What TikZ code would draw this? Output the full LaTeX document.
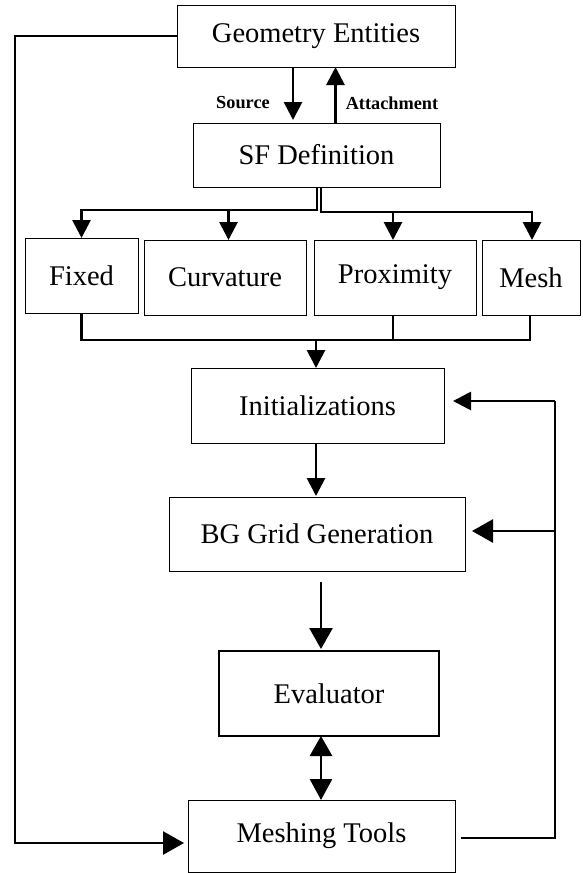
\documentclass[tikz,border=0pt]{standalone}
\usepackage{fontspec}
\setmainfont{Liberation Serif}
\usetikzlibrary{arrows.meta}
\begin{document}
\begin{tikzpicture}[x=1pt,y=-1pt,
 box/.style={draw, line width=1pt, inner sep=0pt, outer sep=0pt, font=\fontsize{28.5}{34}\selectfont},
 conn/.style={line width=2.8pt},
 thinl/.style={line width=1.3pt},
 arr/.style={conn, -{Triangle[length=18pt,width=18pt]}},
 bigarr/.style={conn, -{Triangle[length=21pt,width=23pt]}},
 lbl/.style={font=\fontsize{18.3}{22}\selectfont\bfseries, inner sep=0pt}]
\useasboundingbox (0,0) rectangle (582,873);
% boxes
\node[box, minimum width=278pt, minimum height=62pt] (geo) at (316,36) {Geometry Entities};
\node[box, minimum width=247pt, minimum height=64pt] (sf) at (316.5,155) {SF Definition};
\node[box, minimum width=113pt, minimum height=75pt] (fixed) at (81.5,275.5) {Fixed};
\node[box, minimum width=162pt, minimum height=75pt] (curv) at (225,277.5) {Curvature};
\node[box, minimum width=162pt, minimum height=75pt] (prox) at (395,277.5) {Proximity};
\node[box, minimum width=98pt, minimum height=75pt] (mesh) at (531,277.5) {Mesh};
\node[box, minimum width=253pt, minimum height=75pt] (init) at (317.5,405.5) {Initializations};
\node[box, minimum width=296pt, minimum height=74pt] (bg) at (317,534) {BG Grid Generation};
\node[box, line width=2pt, minimum width=220pt, minimum height=85pt] (eval) at (329,693.5) {Evaluator};
\node[box, minimum width=267pt, minimum height=72pt] (mt) at (321.5,836) {Meshing Tools};
% labels
\node[lbl] (src) at (243,103) {Source};
\node[lbl] (att) at (392,103) {Attachment};
% geo <-> sf
\draw[arr, shorten >=3pt] ([xshift=-23pt]geo.south) -- ([xshift=-23pt]geo.south |- sf.north);
\draw[arr] ([xshift=19pt]sf.north) -- ([xshift=19pt]sf.north |- geo.south);
% sf distribution
\coordinate (jL) at (317,210);
\coordinate (jR) at (321,212);
\draw[thinl] (sf.south -| jL) -- ([yshift=-1pt]jL);
\draw[thinl] (sf.south -| jR) -- ([yshift=-1pt]jR);
\draw[arr] (jL) -| (fixed.north);
\draw[arr] ([xshift=3.5pt]curv.north |- jL) -- ([xshift=3.5pt]curv.north);
\draw[arr] (jR) -| ([xshift=1pt]mesh.north);
\draw[arr] ([xshift=-2pt]prox.north |- jR) -- ([xshift=-2pt]prox.north);
% collector
\coordinate (cb) at (316,340);
\draw[conn] (fixed.south) |- ([xshift=-1pt]mesh.south |- cb) -- ([xshift=-1pt]mesh.south);
\draw[conn] ([xshift=-2pt]prox.south) -- ([xshift=-2pt]prox.south |- cb);
\draw[arr] (cb) -- (init.north -| cb);
% main chain
\draw[arr, shorten >=1pt] ([xshift=-1.5pt]init.south) -- ([xshift=-1.5pt]init.south |- bg.north);
\coordinate (be) at (321,582);
\draw[bigarr, shorten >=2pt] (be) -- (be |- eval.north);
\draw[conn, {Triangle[length=20pt,width=22pt]}-{Triangle[length=21pt,width=22pt]}] (eval.south -| be) -- (mt.north -| be);
% right loop
\coordinate (r1) at (555,838);
\coordinate (r2) at (555,401);
\coordinate (r3) at (555,531);
\draw[conn, shorten <=6pt] (mt.east |- r1) -- (r1) -- (r2);
\draw[arr, shorten >=9pt] (r2) -- (init.east |- r2);
\draw[bigarr, shorten >=7pt] (r3) -- (bg.east |- r3);
% left loop
\coordinate (l1) at (15,36);
\coordinate (l2) at (15,843);
\draw[bigarr, shorten >=4pt] (geo.west) -- (l1) -- (l2) -- (mt.west |- l2);
\end{tikzpicture}
\end{document}
